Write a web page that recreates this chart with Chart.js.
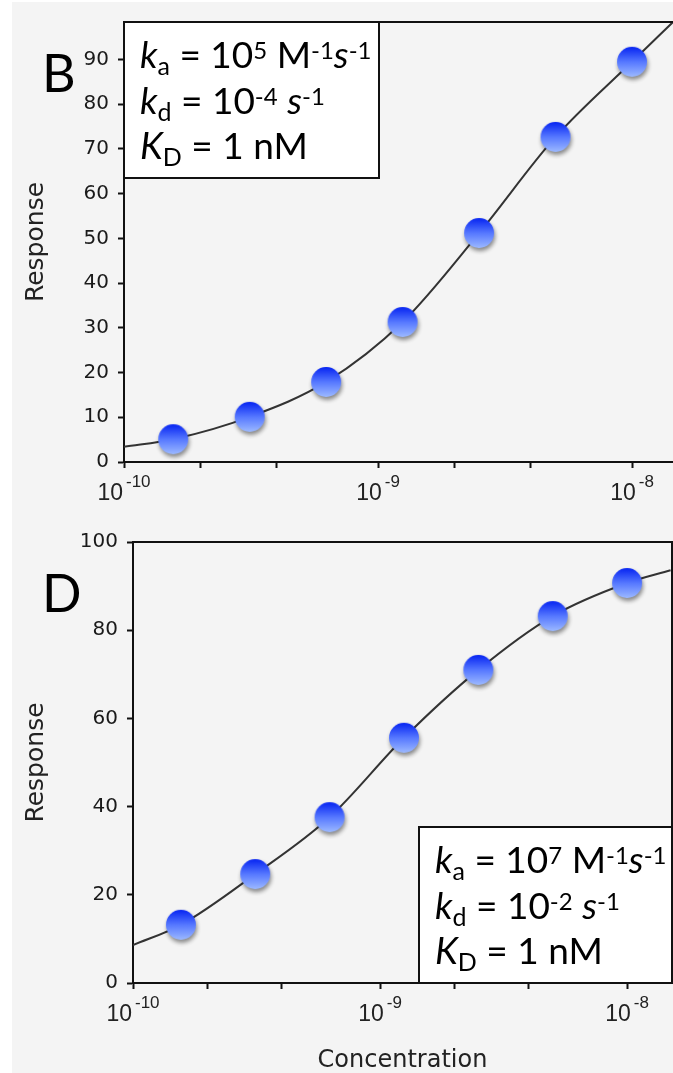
<!DOCTYPE html>
<html>
<head>
<meta charset="utf-8">
<script src="https://cdn.jsdelivr.net/npm/chart.js@4.4.1/dist/chart.umd.min.js"></script>
<style>
  html, body { margin: 0; background: #fff; overflow: hidden; }
  #page { position: absolute; left: 12px; top: 2px; width: 661px; height: 1071px; background: #f4f4f4; }
  canvas { position: absolute; left: 0; }
</style>
</head>
<body>
<div id="page"></div>
<canvas id="chartB" width="673" height="520" style="top:0"></canvas>
<canvas id="chartD" width="673" height="553" style="top:520px"></canvas>
<script>
// measured points (two-fold dilution series)
const concentration = [1.5625e-10, 3.125e-10, 6.25e-10, 1.25e-9, 2.5e-9, 5e-9, 1e-8];
const responseB = [5.1, 10.1, 17.9, 31.3, 51.2, 72.7, 89.5];
const responseD = [13.2, 24.7, 37.6, 55.6, 71.0, 83.2, 90.7];

// fitted curves
const curveConcB = [1e-10, 1.5625e-10, 3.125e-10, 6.25e-10, 1.25e-9, 2.5e-9, 5e-9, 1e-8, 1.45e-8];
const curveB = [3.4, 5.1, 10.1, 17.9, 31.3, 51.2, 72.7, 89.5, 98.4];
const curveConcD = [1e-10, 1.5625e-10, 3.125e-10, 6.25e-10, 1.25e-9, 2.5e-9, 5e-9, 1e-8, 1.5e-8];
const curveD = [8.6, 13.2, 24.7, 37.6, 55.6, 71.0, 83.2, 90.7, 93.6];

// axes
const yTicksB = [0, 10, 20, 30, 40, 50, 60, 70, 80, 90];
const yTicksD = [0, 20, 40, 60, 80, 100];
const xTicks = [1e-10, 2e-10, 4e-10, 1e-9, 2e-9, 4e-9, 1e-8];
const xDecades = [1e-10, 1e-9, 1e-8];
const xExponents = ['-10', '-9', '-8'];

// rate constant boxes: [text, style]
const paramsB = [
  [['k', 'i'], ['a', 'sub'], [' = 10', ''], ['5', 'sup'], [' M', ''], ['-1', 'sup'], ['s', 'i'], ['-1', 'sup']],
  [['k', 'i'], ['d', 'sub'], [' = 10', ''], ['-4', 'sup'], [' ', ''], ['s', 'i'], ['-1', 'sup']],
  [['K', 'i'], ['D', 'sub'], [' = 1 nM', '']]
];
const paramsD = [
  [['k', 'i'], ['a', 'sub'], [' = 10', ''], ['7', 'sup'], [' M', ''], ['-1', 'sup'], ['s', 'i'], ['-1', 'sup']],
  [['k', 'i'], ['d', 'sub'], [' = 10', ''], ['-2', 'sup'], [' ', ''], ['s', 'i'], ['-1', 'sup']],
  [['K', 'i'], ['D', 'sub'], [' = 1 nM', '']]
];

function ballImage() {
  const c = document.createElement('canvas');
  c.width = 44; c.height = 44;
  const g = c.getContext('2d');
  g.shadowColor = 'rgba(0,0,0,0.45)';
  g.shadowBlur = 4;
  g.shadowOffsetX = 1;
  g.shadowOffsetY = 3;
  const grad = g.createLinearGradient(0, 7, 0, 37);
  grad.addColorStop(0, '#0624f2');
  grad.addColorStop(0.5, '#5678ff');
  grad.addColorStop(1, '#9cb9ff');
  g.fillStyle = grad;
  g.beginPath();
  g.arc(22, 22, 15, 0, Math.PI * 2);
  g.fill();
  return c;
}
const ball = ballImage();

// frame, decade labels, panel letter and parameter box
const decor = {
  id: 'decor',
  afterDraw(chart, args, opts) {
    const { ctx, chartArea: a } = chart;
    const x = chart.scales.x;
    ctx.save();
    ctx.strokeStyle = '#111';
    ctx.lineWidth = 2;
    ctx.beginPath();
    ctx.moveTo(a.left, a.top);
    ctx.lineTo(a.right, a.top);
    if (opts.rightBorder) ctx.lineTo(a.right, a.bottom);
    ctx.stroke();

    // 10^n labels
    ctx.fillStyle = '#222';
    ctx.textBaseline = 'alphabetic';
    const base = a.bottom + 38;
    xDecades.forEach((v, i) => {
      const px = x.getPixelForValue(v);
      ctx.font = '23px "Liberation Sans"';
      const w1 = ctx.measureText('10').width;
      ctx.font = '17px "Liberation Sans"';
      const w2 = ctx.measureText(xExponents[i]).width;
      const left = px - (w1 + 3 + w2) / 2;
      ctx.font = '23px "Liberation Sans"';
      ctx.fillText('10', left, base);
      ctx.font = '17px "Liberation Sans"';
      ctx.fillText(xExponents[i], left + w1 + 3, base - 13);
    });

    // panel letter
    ctx.fillStyle = '#000';
    ctx.font = '52px Lato';
    ctx.fillText(opts.letter, 42, 92);

    // parameter box
    const bx = opts.boxRight ? a.right - opts.boxW : a.left;
    const by = opts.boxBottom ? a.bottom - opts.boxH : a.top;
    ctx.fillStyle = '#fff';
    ctx.fillRect(bx, by, opts.boxW, opts.boxH);
    ctx.strokeStyle = '#111';
    ctx.lineWidth = 2;
    ctx.strokeRect(bx, by, opts.boxW, opts.boxH);
    ctx.fillStyle = '#000';
    opts.lines.forEach((line, li) => {
      let tx = bx + 16;
      const ty = by + 46 + li * 45.5;
      line.forEach(([t, s]) => {
        let dy = 0;
        if (s === 'i') ctx.font = 'italic 37px Lato';
        else if (s === 'sub') { ctx.font = '25px Lato'; dy = 7; }
        else if (s === 'sup') { ctx.font = '24px Lato'; dy = -9; }
        else ctx.font = '37px Lato';
        ctx.fillText(t, tx, ty + dy);
        tx += ctx.measureText(t).width;
      });
    });
    ctx.restore();
  }
};

function noSidePadding(s) {
  s.paddingLeft = 0;
  s.paddingRight = 0;
}

function renderChart(canvasId, cfg) {
  new Chart(document.getElementById(canvasId), {
    type: 'scatter',
    data: {
      datasets: [{
        data: cfg.points.map((v, i) => ({ x: concentration[i], y: v })),
        pointStyle: ball,
        pointRadius: 15,
        showLine: false,
        clip: false,
        order: 0
      }, {
        data: cfg.curve.map((v, i) => ({ x: cfg.curveConc[i], y: v })),
        showLine: true,
        borderColor: '#333',
        borderWidth: 2,
        pointRadius: 0,
        cubicInterpolationMode: 'monotone',
        order: 1
      }]
    },
    options: {
      responsive: false,
      animation: false,
      layout: { autoPadding: false, padding: { top: 22, right: cfg.padRight, left: 0, bottom: 0 } },
      plugins: {
        legend: { display: false },
        tooltip: { enabled: false },
        decor: cfg.decor
      },
      scales: {
        x: {
          type: 'logarithmic',
          min: 1e-10,
          max: cfg.xMax,
          afterBuildTicks: s => { s.ticks = xTicks.map(v => ({ value: v })); },
          afterFit: s => { s.height = cfg.xHeight; noSidePadding(s); },
          ticks: { autoSkip: false, maxRotation: 0, padding: 0, callback: () => '' },
          grid: { drawOnChartArea: false, tickLength: 6, tickColor: '#111', tickWidth: 2 },
          border: { color: '#111', width: 2 },
          title: {
            display: !!cfg.xTitle,
            text: cfg.xTitle || '',
            color: '#222',
            font: { family: 'DejaVu Sans', size: 24, lineHeight: 1 },
            padding: { top: 0, bottom: 0 }
          }
        },
        y: {
          min: 0,
          max: cfg.yMax,
          afterBuildTicks: s => { s.ticks = cfg.yTicks.map(v => ({ value: v })); },
          afterFit: s => { s.width = cfg.yWidth; },
          ticks: { color: '#1a1a1a', font: { family: 'DejaVu Sans', size: 20 }, padding: 9 },
          grid: { drawOnChartArea: false, tickLength: 6, tickColor: '#111', tickWidth: 2 },
          border: { color: '#111', width: 2 },
          title: {
            display: true,
            text: 'Response',
            color: '#222',
            font: { family: 'DejaVu Sans', size: 25 },
            padding: { top: 21, bottom: 0 }
          }
        }
      }
    },
    plugins: [decor]
  });
}

renderChart('chartB', {
  points: responseB, curve: curveB, curveConc: curveConcB,
  xMax: 1.45e-8, yMax: 98.4, yTicks: yTicksB,
  yWidth: 124, xHeight: 58, padRight: 0,
  decor: { letter: 'B', lines: paramsB, boxW: 255, boxH: 156, boxRight: false, boxBottom: false, rightBorder: false }
});

renderChart('chartD', {
  points: responseD, curve: curveD, curveConc: curveConcD,
  xMax: 1.52e-8, yMax: 100, yTicks: yTicksD,
  yWidth: 133, xHeight: 90, padRight: 1, xTitle: 'Concentration',
  decor: { letter: 'D', lines: paramsD, boxW: 253, boxH: 156, boxRight: true, boxBottom: true, rightBorder: true }
});
</script>
</body>
</html>
